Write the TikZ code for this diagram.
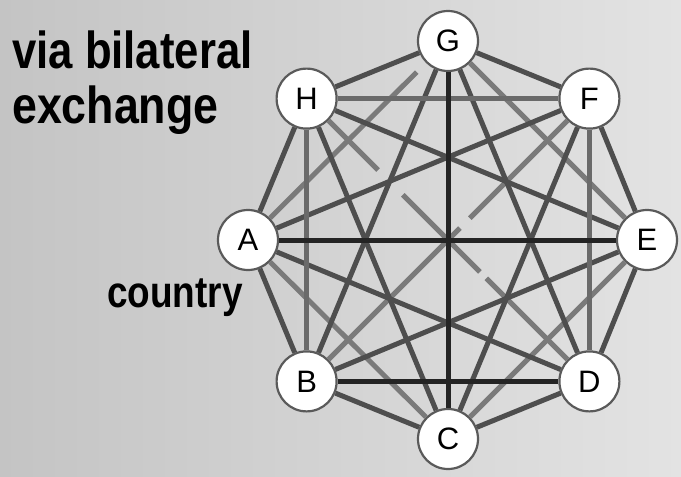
\documentclass[tikz,border=0pt]{standalone}
\usepackage{fontspec}
\setmainfont{Liberation Sans}
\usepackage{graphicx}
\definecolor{bgl}{HTML}{C4C4C4}
\definecolor{bgr}{HTML}{E3E3E3}
\definecolor{edgetex}{HTML}{4E4E4E}
\definecolor{edgelight}{HTML}{7A7A7A}
\definecolor{edgemid}{HTML}{6A6A6A}
\definecolor{edgedark}{HTML}{242424}
\definecolor{ringcol}{HTML}{5A5A5A}
\begin{document}
\begin{tikzpicture}[x=1pt,y=-1pt,
  cnode/.style={circle, draw=ringcol, line width=2.2pt, fill=white, minimum size=60pt, inner sep=0pt, font=\fontsize{31}{36}\selectfont},
  lbl/.style={inner sep=0pt, anchor=base west},
  texedge/.style={draw=edgetex, line width=5pt},
  lightedge/.style={draw=edgelight, line width=5pt},
  midedge/.style={draw=edgemid, line width=5.5pt},
  darkedge/.style={draw=edgedark, line width=5pt}]
\useasboundingbox (0,0) rectangle (681,477);
\shade[left color=bgl, right color=bgr] (0,0) rectangle (681,477);
% labels
\node[lbl] (t1) at (12,68) {\scalebox{0.84}[1]{\fontsize{52}{55}\selectfont\bfseries via bilateral}};
\node[lbl] (t2) at (12,123) {\scalebox{0.86}[1]{\fontsize{52}{55}\selectfont\bfseries exchange}};
\node[lbl] (t3) at (107,307) {\scalebox{0.84}[1]{\fontsize{44}{48}\selectfont\bfseries country}};
% nodes
\node[cnode] (E) at (647,240) {E};
\node[cnode] (F) at (589.4,98.6) {F};
\node[cnode] (G) at (448,41) {G};
\node[cnode] (H) at (306.6,98.6) {H};
\node[cnode] (A) at (248,240) {A};
\node[cnode] (B) at (306.6,381.4) {B};
\node[cnode] (C) at (448,439) {C};
\node[cnode] (D) at (589.4,381.4) {D};
% light edges
\draw[lightedge, dash pattern=on 0pt off 13pt on 400pt] (G) -- (A);
\draw[lightedge] (G) -- (E);
\draw[lightedge] (E) -- (C);
\draw[lightedge] (C) -- (A);
\draw[lightedge, dash pattern=on 70pt off 35pt on 109pt off 9pt on 300pt] (H) -- (D);
\draw[lightedge, dash pattern=on 138pt off 14pt on 300pt] (F) -- (B);
% textured edges: neighbours
\draw[texedge] (G) -- (F);
\draw[texedge] (F) -- (E);
\draw[texedge] (E) -- (D);
\draw[texedge] (D) -- (C);
\draw[texedge] (C) -- (B);
\draw[texedge] (B) -- (A);
\draw[texedge] (A) -- (H);
\draw[texedge] (H) -- (G);
% textured edges: distance three
\draw[texedge] (E) -- (H);
\draw[texedge] (F) -- (A);
\draw[texedge] (G) -- (B);
\draw[texedge] (H) -- (C);
\draw[texedge] (A) -- (D);
\draw[texedge] (B) -- (E);
\draw[texedge] (C) -- (F);
\draw[texedge] (D) -- (G);
% square
\draw[midedge] (H) -- (F);
\draw[midedge] (H) -- (B);
\draw[midedge] (F) -- (D);
\draw[darkedge] (B) -- (D);
% diameters
\draw[darkedge] (G) -- (C);
\draw[darkedge] (A) -- (E);
\end{tikzpicture}
\end{document}
